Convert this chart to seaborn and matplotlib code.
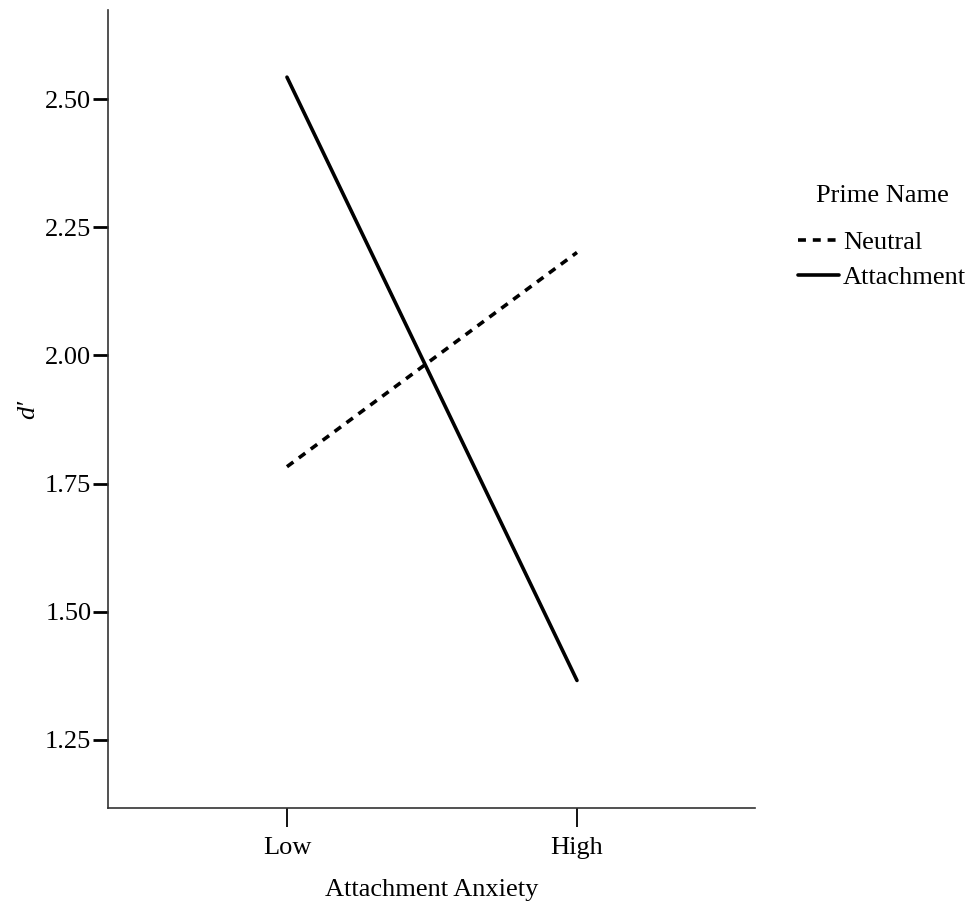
import pandas as pd
import matplotlib
matplotlib.use("Agg")
import matplotlib.pyplot as plt
import seaborn as sns

# data
anxiety = ["Low", "High"]
neutral = [1.783, 2.201]
attachment = [2.543, 1.366]

df = pd.DataFrame({
    "Attachment Anxiety": anxiety * 2,
    "d": neutral + attachment,
    "Prime Name": ["Neutral"] * 2 + ["Attachment"] * 2,
})
df["x"] = df["Attachment Anxiety"].map({"Low": 0, "High": 1})

sns.set_style("ticks")
plt.rcParams["font.family"] = ["Liberation Serif", "DejaVu Serif"]
plt.rcParams["text.color"] = "black"
plt.rcParams["axes.labelcolor"] = "black"
plt.rcParams["xtick.color"] = "black"
plt.rcParams["ytick.color"] = "black"

fig = plt.figure(figsize=(9.75, 9.1), dpi=100)
ax = fig.add_axes([0.1108, 0.112, 0.6636, 0.877])

sns.lineplot(data=df, x="x", y="d", hue="Prime Name", style="Prime Name",
             palette={"Neutral": "black", "Attachment": "black"},
             dashes={"Neutral": (2.2, 1.9), "Attachment": ""},
             linewidth=2.6, ax=ax)

ax.set_xlim(-0.617, 1.614)
ax.set_ylim(1.117, 2.674)
ax.set_xticks([0, 1])
ax.set_xticklabels(anxiety)
ax.set_yticks([1.25, 1.50, 1.75, 2.00, 2.25, 2.50])
ax.set_yticklabels(["1.25", "1.50", "1.75", "2.00", "2.25", "2.50"])
ax.tick_params(axis="y", length=11, width=2.0, labelsize=19, colors="black", pad=1)
ax.tick_params(axis="x", length=14, width=1.3, labelsize=19, colors="black", pad=7)
ax.set_xlabel("Attachment Anxiety", fontsize=19, labelpad=14, color="black")
ax.set_ylabel("d\u2032", fontsize=19, style="italic", labelpad=4, color="black")

sns.despine(ax=ax)
for s in ["left", "bottom"]:
    ax.spines[s].set_linewidth(1.2)
    ax.spines[s].set_color("#333333")

leg = ax.legend(title="Prime Name", loc="upper left", bbox_to_anchor=(1.03, 0.81),
                frameon=False, fontsize=19, title_fontsize=19,
                handlelength=1.55, handletextpad=0.15, labelspacing=0.42)
leg._legend_box.align = "center"
leg._legend_box.sep = 17
for t in leg.get_texts():
    t.set_color("black")
leg.get_title().set_color("black")

fig.savefig("out.png", dpi=100)
